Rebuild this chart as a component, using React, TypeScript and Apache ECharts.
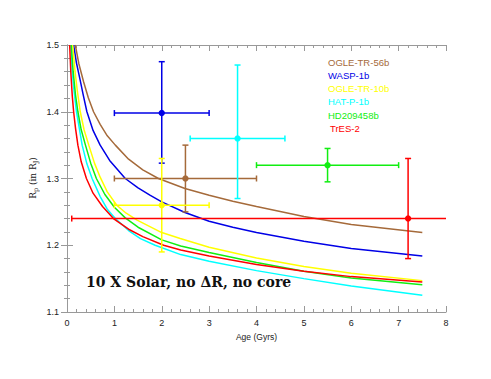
import React, { useEffect, useRef } from "react";
import * as echarts from "echarts";

// Model curves: [age (Gyr), radius (R_J)]
const curveOGLE56: number[][] = [[0.175,1.5],[0.25,1.472],[0.35,1.445],[0.45,1.421],[0.56,1.4],[0.7,1.381],[0.85,1.364],[1.02,1.35],[1.3,1.329],[1.6,1.313],[1.93,1.3],[2.49,1.285],[3.0,1.275],[3.5,1.266],[4.0,1.258],[5.0,1.243],[6.0,1.231],[7.5,1.219]];
const curveWASP1: number[][] = [[0.14,1.5],[0.2,1.473],[0.27,1.45],[0.34,1.426],[0.42,1.4],[0.55,1.372],[0.7,1.35],[0.9,1.327],[1.23,1.3],[1.5,1.286],[1.75,1.275],[2.0,1.265],[2.49,1.249],[3.0,1.236],[3.5,1.227],[4.0,1.219],[5.0,1.206],[6.0,1.195],[7.5,1.184]];
const curveOGLE10: number[][] = [[0.12,1.5],[0.17,1.46],[0.22,1.43],[0.28,1.4],[0.36,1.373],[0.46,1.35],[0.58,1.323],[0.7,1.302],[0.85,1.28],[1.05,1.26],[1.25,1.248],[1.47,1.238],[1.75,1.228],[2.0,1.219],[2.39,1.21],[3.0,1.197],[4.0,1.181],[5.0,1.168],[6.0,1.158],[7.5,1.147]];
const curveHATP1: number[][] = [[0.08,1.5],[0.11,1.46],[0.15,1.43],[0.2,1.4],[0.26,1.375],[0.32,1.35],[0.42,1.322],[0.53,1.3],[0.7,1.273],[0.85,1.254],[1.02,1.24],[1.3,1.222],[1.55,1.21],[1.86,1.2],[2.4,1.186],[3.0,1.176],[4.0,1.162],[5.0,1.15],[6.0,1.139],[7.5,1.125]];
const curveHD209: number[][] = [[0.09,1.5],[0.13,1.46],[0.18,1.425],[0.23,1.4],[0.3,1.373],[0.39,1.35],[0.5,1.323],[0.62,1.3],[0.8,1.276],[1.0,1.257],[1.23,1.241],[1.5,1.227],[2.0,1.208],[2.4,1.199],[3.0,1.189],[4.0,1.174],[5.0,1.161],[6.0,1.151],[7.5,1.141]];
const curveTrES2: number[][] = [[0.056,1.5],[0.08,1.46],[0.11,1.425],[0.14,1.4],[0.18,1.375],[0.23,1.35],[0.3,1.325],[0.41,1.3],[0.55,1.278],[0.75,1.258],[0.98,1.24],[1.3,1.224],[1.6,1.213],[2.04,1.2],[2.4,1.193],[3.0,1.184],[4.0,1.171],[5.0,1.161],[6.0,1.153],[7.5,1.145]];

const planets = ["OGLE-TR-56b", "WASP-1b", "OGLE-TR-10b", "HAT-P-1b", "HD209458b", "TrES-2"];
const colors = ["#a56a3a", "#0000e6", "#ffff00", "#00ffff", "#11ee11", "#ff0000"];
const curves = [curveOGLE56, curveWASP1, curveOGLE10, curveHATP1, curveHD209, curveTrES2];

// Observations
const obsAge = [2.5, 2.0, 2.0, 3.6, 5.5, 7.2];
const obsAgeLo = [1.0, 1.0, 1.0, 2.6, 4.0, 0.1];
const obsAgeHi = [4.0, 3.0, 3.0, 4.6, 7.0, 8.6];
const obsR = [1.3, 1.398, 1.26, 1.36, 1.32, 1.24];
const obsRLo = [1.25, 1.323, 1.19, 1.27, 1.295, 1.18];
const obsRHi = [1.35, 1.475, 1.33, 1.47, 1.345, 1.33];

const xTicks = [0, 1, 2, 3, 4, 5, 6, 7, 8];
const yTicks = [1.1, 1.2, 1.3, 1.4, 1.5];

export default function App() {
  const ref = useRef<HTMLDivElement>(null);
  useEffect(() => {
    if (!ref.current) return;
    document.body.style.margin = "0";
    const chart = echarts.init(ref.current, null, { renderer: "svg" });
    const axisCommon = {
      axisLine: { show: true, lineStyle: { color: "#999", width: 1 } },
      axisTick: { show: true, inside: true, length: 6, lineStyle: { color: "#999" } },
      minorTick: { show: true, splitNumber: 5, length: 3, lineStyle: { color: "#999" } },
      splitLine: { show: false },
    };
    const labelStyle = { color: "#222", fontSize: 9, fontFamily: "Liberation Sans, Arial, sans-serif" };

    const curveSeries = curves.map((c, i) => ({
      type: "line",
      name: planets[i],
      data: c,
      smooth: false,
      showSymbol: false,
      symbol: "none",
      lineStyle: { color: colors[i], width: 1.5 },
      z: 2,
    }));

    const errData = planets.map((_, i) => [obsAge[i], obsR[i], obsAgeLo[i], obsAgeHi[i], obsRLo[i], obsRHi[i], i]);

    const errSeries = {
      type: "custom",
      clip: true,
      data: errData,
      z: 5,
      renderItem: (params: any, api: any) => {
        const x = api.value(0), y = api.value(1);
        const xl = api.value(2), xh = api.value(3), yl = api.value(4), yh = api.value(5);
        const idx = api.value(6);
        const col = colors[idx];
        const c = api.coord([x, y]);
        const pl = api.coord([xl, y]);
        const ph = api.coord([xh, y]);
        const pb = api.coord([x, yl]);
        const pt = api.coord([x, yh]);
        const cap = 3;
        const st = { stroke: col, lineWidth: 1.5 };
        const children: any[] = [
          { type: "line", shape: { x1: pl[0], y1: pl[1], x2: ph[0], y2: ph[1] }, style: st },
          { type: "line", shape: { x1: pb[0], y1: pb[1], x2: pt[0], y2: pt[1] }, style: st },
          { type: "line", shape: { x1: pl[0], y1: pl[1] - cap, x2: pl[0], y2: pl[1] + cap }, style: st },
          { type: "line", shape: { x1: ph[0], y1: ph[1] - cap, x2: ph[0], y2: ph[1] + cap }, style: st },
          { type: "line", shape: { x1: pb[0] - cap, y1: pb[1], x2: pb[0] + cap, y2: pb[1] }, style: st },
          { type: "line", shape: { x1: pt[0] - cap, y1: pt[1], x2: pt[0] + cap, y2: pt[1] }, style: st },
          { type: "circle", shape: { cx: c[0], cy: c[1], r: 3.2 }, style: { fill: col } },
        ];
        return { type: "group", children };
      },
    };

    const legendTexts = planets.map((p, i) => ({
      type: "text",
      left: i === 5 ? 330 : 328,
      top: 57 + i * 13.3,
      style: { text: p, fill: colors[i], fontSize: 9.5, fontFamily: "Liberation Sans, Arial, sans-serif" },
      z: 10,
    }));

    chart.setOption({
      animation: false,
      backgroundColor: "#fff",
      grid: { left: 67, right: 45, top: 45, bottom: 67 },
      xAxis: [
        {
          type: "value", min: 0, max: 8, interval: 1, position: "bottom",
          ...axisCommon,
          axisLabel: { ...labelStyle, margin: 6, formatter: (v: number) => (xTicks.includes(v) ? String(v) : "") },
          name: "Age (Gyrs)", nameLocation: "middle", nameGap: 20,
          nameTextStyle: { ...labelStyle, fontSize: 8.5 },
        },
        {
          type: "value", min: 0, max: 8, interval: 1, position: "top",
          ...axisCommon,
          axisLabel: { show: false },
        },
      ],
      yAxis: [
        {
          type: "value", min: 1.1, max: 1.5, interval: 0.1, position: "left",
          ...axisCommon,
          axisLabel: { ...labelStyle, margin: 8, formatter: (v: number) => {
            const t = yTicks.find((k) => Math.abs(k - v) < 1e-6);
            return t !== undefined ? t.toFixed(1) : "";
          } },
        },
        {
          type: "value", min: 1.1, max: 1.5, interval: 0.1, position: "right",
          ...axisCommon,
          axisLabel: { show: false },
        },
      ],
      series: [...curveSeries, errSeries],
      graphic: [
        ...legendTexts,
        {
          type: "text",
          left: 86,
          top: 275,
          style: {
            text: "10 X Solar, no \u0394R, no core",
            fontSize: 14,
            fontWeight: "bold",
            fontFamily: "DejaVu Serif, serif",
            fill: "#111",
          },
          z: 10,
        },
        {
          type: "text",
          x: 33,
          y: 178,
          rotation: Math.PI / 2,
          style: {
            text: "{r|R}{s|p}{r| (in R}{s|J}{r|)}",
            textAlign: "center",
            textVerticalAlign: "middle",
            rich: {
              r: { fontSize: 9, fontFamily: "DejaVu Serif, serif", fill: "#222", verticalAlign: "middle" },
              s: { fontSize: 6.5, fontFamily: "DejaVu Serif, serif", fill: "#222", verticalAlign: "bottom", padding: [5, 0, 0, 0] },
            },
          },
          z: 10,
        },
      ],
    });
    return () => chart.dispose();
  }, []);
  return <div ref={ref} style={{ width: 491, height: 379 }} />;
}
